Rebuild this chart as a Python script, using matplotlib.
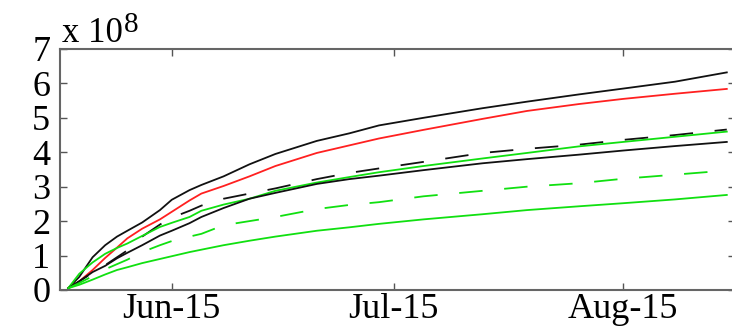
import datetime as dt
import matplotlib
matplotlib.use('Agg')
import matplotlib.pyplot as plt
import matplotlib.dates as mdates

# days since 1 June
days = [0, 1.5, 3.3, 5, 6.6, 8, 10, 12.4, 14, 16.4, 18, 21, 24.5, 28, 33.6,
        38, 42, 48, 56, 62, 69, 75, 82, 89]

black_top = [0.05, 0.38, 0.95, 1.3, 1.55, 1.72, 1.96, 2.32, 2.62, 2.9, 3.05, 3.3,
             3.65, 3.95, 4.33, 4.55, 4.78, 5.0, 5.28, 5.47, 5.68, 5.85, 6.05, 6.32]
red = [0.05, 0.25, 0.58, 0.93, 1.23, 1.5, 1.78, 2.05, 2.27, 2.6, 2.8, 3.02,
       3.3, 3.6, 3.98, 4.2, 4.4, 4.65, 4.97, 5.2, 5.4, 5.55, 5.7, 5.84]
black_dash = [0.05, 0.25, 0.5, 0.72, 0.95, 1.15, 1.55, 1.9, 2.1, 2.3, 2.45, 2.65,
              2.8, 2.95, 3.22, 3.4, 3.53, 3.72, 3.98, 4.1, 4.22, 4.36, 4.5, 4.66]
green_top = [0.05, 0.47, 0.8, 1.05, 1.22, 1.35, 1.57, 1.83, 1.95, 2.12, 2.3, 2.48,
             2.65, 2.88, 3.12, 3.28, 3.42, 3.6, 3.82, 3.98, 4.17, 4.3, 4.45, 4.6]
black_low = [0.05, 0.25, 0.52, 0.7, 0.92, 1.08, 1.3, 1.58, 1.72, 1.94, 2.12, 2.38,
             2.65, 2.82, 3.08, 3.22, 3.32, 3.48, 3.68, 3.8, 3.93, 4.05, 4.18, 4.3]
green_dash = [0.05, 0.2, 0.4, 0.6, 0.75, 0.88, 1.1, 1.3, 1.42, 1.55, 1.63, 1.88,
              2.0, 2.12, 2.35, 2.47, 2.55, 2.72, 2.88, 3.0, 3.1, 3.23, 3.35, 3.47]
green_low = [0.05, 0.15, 0.3, 0.45, 0.58, 0.66, 0.78, 0.9, 0.98, 1.1, 1.17, 1.3,
             1.43, 1.55, 1.72, 1.82, 1.92, 2.05, 2.2, 2.32, 2.43, 2.52, 2.63, 2.76]

start = dt.datetime(2013, 6, 1)
dates = [start + dt.timedelta(days=d) for d in days]
ticks = [dt.datetime(2013, m, 15) for m in (6, 7, 8)]
yticks = list(range(0, 8))

plt.rcParams['font.family'] = ['Liberation Serif', 'DejaVu Serif']

fig = plt.figure(figsize=(7.32, 3.31), dpi=100)
ax = fig.add_axes([0.082, 0.124, 0.922, 0.728])

green = '#10e010'
dash = (13, 12)
ax.plot(dates, black_top, color='#111111', lw=1.3)
ax.plot(dates, red, color='#ff2020', lw=1.3)
ax.plot(dates, black_dash, color='#111111', lw=1.3, dashes=dash)
ax.plot(dates, green_top, color=green, lw=1.3)
ax.plot(dates, black_low, color='#111111', lw=1.3)
ax.plot(dates, green_dash, color=green, lw=1.3, dashes=dash)
ax.plot(dates, green_low, color=green, lw=1.3)

ax.set_xlim(start - dt.timedelta(days=1.1), start + dt.timedelta(days=90.1))
ax.set_ylim(0, 7)
ax.set_xticks(ticks)
ax.xaxis.set_major_formatter(mdates.DateFormatter('%b-%d'))
ax.set_yticks(yticks)
ax.tick_params(direction='in', top=True, right=True, length=5, width=1,
               color='#555555', labelsize=26)
ax.tick_params(axis='x', pad=2)
ax.tick_params(axis='y', pad=7)
for s in ax.spines.values():
    s.set_color('#666666')
    s.set_linewidth(1.5)

ax.annotate('x 10', xy=(0, 1), xycoords='axes fraction', xytext=(1.5, 5),
            textcoords='offset points', fontsize=25, ha='left', va='baseline')
ax.annotate('8', xy=(0, 1), xycoords='axes fraction', xytext=(46, 12),
            textcoords='offset points', fontsize=21, ha='left', va='baseline')

fig.savefig('out.png', dpi=100)
